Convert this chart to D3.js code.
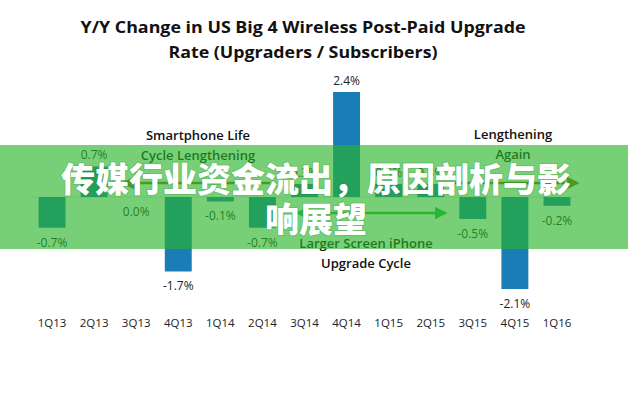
<!DOCTYPE html>
<html>
<head>
<meta charset="utf-8">
<script src="https://cdn.jsdelivr.net/npm/d3@7"></script>
<style>
body { margin: 0; background: #fff; }
svg { display: block; }
</style>
</head>
<body>
<svg id="chart" width="628" height="396"></svg>
<script>
var quarters = ["1Q13", "2Q13", "3Q13", "4Q13", "1Q14", "2Q14", "3Q14", "4Q14", "1Q15", "2Q15", "3Q15", "4Q15", "1Q16"];
var changes = [-0.7, 0.7, 0.0, -1.7, -0.1, -0.7, 0.3, 2.4, 0.3, 0.3, -0.5, -2.1, -0.2];
var titleLines = ["Y/Y Change in US Big 4 Wireless Post-Paid Upgrade", "Rate (Upgraders / Subscribers)"];
var bannerLines = ["传媒行业资金流出，原因剖析与影", "响展望"];

var svg = d3.select("#chart");
var font = "Open Sans, Lato, sans-serif";

var x = d3.scaleBand()
	.domain(quarters)
	.range([31, 578])
	.paddingInner(0.36)
	.paddingOuter(0.18);

var y = d3.scaleLinear()
	.domain([-2.1, 2.4])
	.range([289, 92]);

// title
svg.selectAll(".title")
	.data(titleLines)
	.enter()
	.append("text")
	.attr("class", "title")
	.attr("x", 303)
	.attr("y", (d, i) => 33 + i * 25)
	.attr("text-anchor", "middle")
	.style("font-family", font)
	.style("font-weight", 700)
	.style("font-size", "16px")
	.attr("textLength", (d, i) => i == 0 ? 445 : 269)
	.attr("lengthAdjust", "spacingAndGlyphs")
	.attr("fill", "#111")
	.text(d => d);

// baseline
svg.append("line")
	.attr("x1", 31).attr("x2", 578)
	.attr("y1", y(0)).attr("y2", y(0))
	.attr("stroke", "#e3e3e3")
	.attr("stroke-width", 1);

// bars
svg.selectAll(".bar")
	.data(changes)
	.enter()
	.append("rect")
	.attr("class", "bar")
	.attr("x", (d, i) => x(quarters[i]))
	.attr("y", d => y(Math.max(0, d)))
	.attr("width", x.bandwidth())
	.attr("height", d => Math.abs(y(d) - y(0)))
	.attr("fill", "#1a7db5");

// value labels
svg.selectAll(".val")
	.data(changes)
	.enter()
	.append("text")
	.attr("class", "val")
	.attr("x", (d, i) => x(quarters[i]) + x.bandwidth() / 2)
	.attr("y", d => d > 0 ? y(d) - 7 : y(d) + 19)
	.attr("text-anchor", "middle")
	.style("font-family", font)
	.style("font-size", "12px")
	.attr("fill", "#222")
	.text(d => d.toFixed(1) + "%");

// x axis labels
var xAxis = svg.append("g")
	.attr("transform", "translate(0,311)")
	.call(d3.axisBottom(x).tickSize(0).tickPadding(8));
xAxis.select(".domain").remove();
xAxis.selectAll("text")
	.style("font-family", font)
	.style("font-size", "11.5px")
	.attr("fill", "#222");

// annotations
var notes = [
	{t: "Smartphone Life", x: 198, y: 140},
	{t: "Cycle Lengthening", x: 198, y: 160},
	{t: "Lengthening", x: 513, y: 139},
	{t: "Again", x: 513, y: 159},
	{t: "Larger Screen iPhone", x: 366, y: 248},
	{t: "Upgrade Cycle", x: 366, y: 268}
];
svg.selectAll(".note")
	.data(notes)
	.enter()
	.append("text")
	.attr("class", "note")
	.attr("x", d => d.x)
	.attr("y", d => d.y)
	.attr("text-anchor", "middle")
	.style("font-family", font)
	.style("font-weight", 600)
	.style("font-size", "13px")
	.attr("fill", "#111")
	.text(d => d.t);

// arrows
var defs = svg.append("defs");
[["brownHead", "#8a6d1e"], ["greenHead", "#2db84a"]].forEach(function(m) {
	defs.append("marker")
		.attr("id", m[0])
		.attr("viewBox", "0 0 10 10")
		.attr("refX", 8).attr("refY", 5)
		.attr("markerWidth", 5).attr("markerHeight", 5)
		.attr("orient", "auto-start-reverse")
		.append("path")
		.attr("d", "M0,0 L10,5 L0,10 z")
		.attr("fill", m[1]);
});
var arrows = [
	{x1: 270, x2: 124, y: 183, c: "#8a6d1e", m: "brownHead", both: false},
	{x1: 455, x2: 577, y: 183, c: "#8a6d1e", m: "brownHead", both: false},
	{x1: 298, x2: 445, y: 213, c: "#2db84a", m: "greenHead", both: true}
];
svg.selectAll(".arrow")
	.data(arrows)
	.enter()
	.append("line")
	.attr("class", "arrow")
	.attr("x1", d => d.x1).attr("x2", d => d.x2)
	.attr("y1", d => d.y).attr("y2", d => d.y)
	.attr("stroke", d => d.c)
	.attr("stroke-width", 2.5)
	.attr("marker-end", d => "url(#" + d.m + ")")
	.attr("marker-start", d => d.both ? "url(#" + d.m + ")" : null);

// green banner overlay
svg.append("rect")
	.attr("x", 0).attr("y", 145)
	.attr("width", 628).attr("height", 104)
	.attr("fill", "rgb(40,181,40)")
	.attr("fill-opacity", 0.63);

svg.selectAll(".banner")
	.data(bannerLines)
	.enter()
	.append("text")
	.attr("class", "banner")
	.attr("x", 316)
	.attr("y", (d, i) => 192 + i * 40)
	.attr("text-anchor", "middle")
	.style("font-family", "Noto Sans CJK SC, sans-serif")
	.style("font-weight", 900)
	.style("font-size", "34px")
	.attr("fill", "#fff")
	.style("paint-order", "stroke")
	.attr("stroke", "rgba(0,80,0,0.15)")
	.attr("stroke-width", 2)
	.text(d => d);
</script>
</body>
</html>
